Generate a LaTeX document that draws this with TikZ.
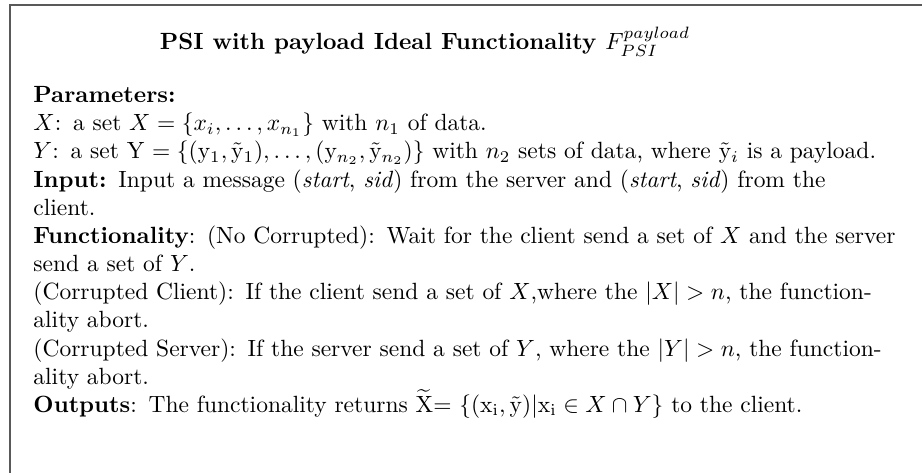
\documentclass[tikz,border=0pt]{standalone}
\usepackage{amsmath,amssymb}
\usetikzlibrary{positioning}

\begin{document}
\begin{tikzpicture}[x=0.426pt,y=0.426pt]
  \tikzset{every node/.style={inner sep=0pt},
    frame/.style={draw=black!65,line width=0.55pt},
    body/.style={anchor=north west,text width=371pt,align=left,font=\fontsize{10}{12}\selectfont}}

  \useasboundingbox (0,0) rectangle (922,-472);
  \clip (0,0) rectangle (922,-472);
  \draw[frame] (10,-5) rectangle (960,-520);

  \node[font=\bfseries] (title) at (425,-42) {PSI with payload Ideal Functionality $F^{payload}_{PSI}$};

  \node[body] (spec) at (33,-86) {%
    \textbf{Parameters:}\\
    $X$: a set $X=\{x_i,\dots,x_{n_1}\}$ with $n_1$ of data.\\
    $Y$: a set Y $=\{(\mathrm{y}_1,\tilde{\mathrm{y}}_1),\dots,(\mathrm{y}_{n_2},\tilde{\mathrm{y}}_{n_2})\}$ with $n_2$ sets of data, where $\tilde{\mathrm{y}}_i$ is a payload.\\
    \textbf{Input:} Input a message (\textit{start}, \textit{sid}) from the server and (\textit{start}, \textit{sid}) from the\\
    client.\\
    \textbf{Functionality}: (No Corrupted): Wait for the client send a set of $X$ and the server\\
    send a set of $Y$.\\
    (Corrupted Client): If the client send a set of $X$,where the $|X|>n$, the function-\\
    ality abort.\\
    (Corrupted Server): If the server send a set of $Y$, where the $|Y|>n$, the function-\\
    ality abort.\\
    \textbf{Outputs}: The functionality returns $\widetilde{\mathrm{X}}$= $\{(\mathrm{x}_\mathrm{i},\tilde{\mathrm{y}})|\mathrm{x}_\mathrm{i}\in X\cap Y\}$ to the client.};
\end{tikzpicture}
\end{document}
